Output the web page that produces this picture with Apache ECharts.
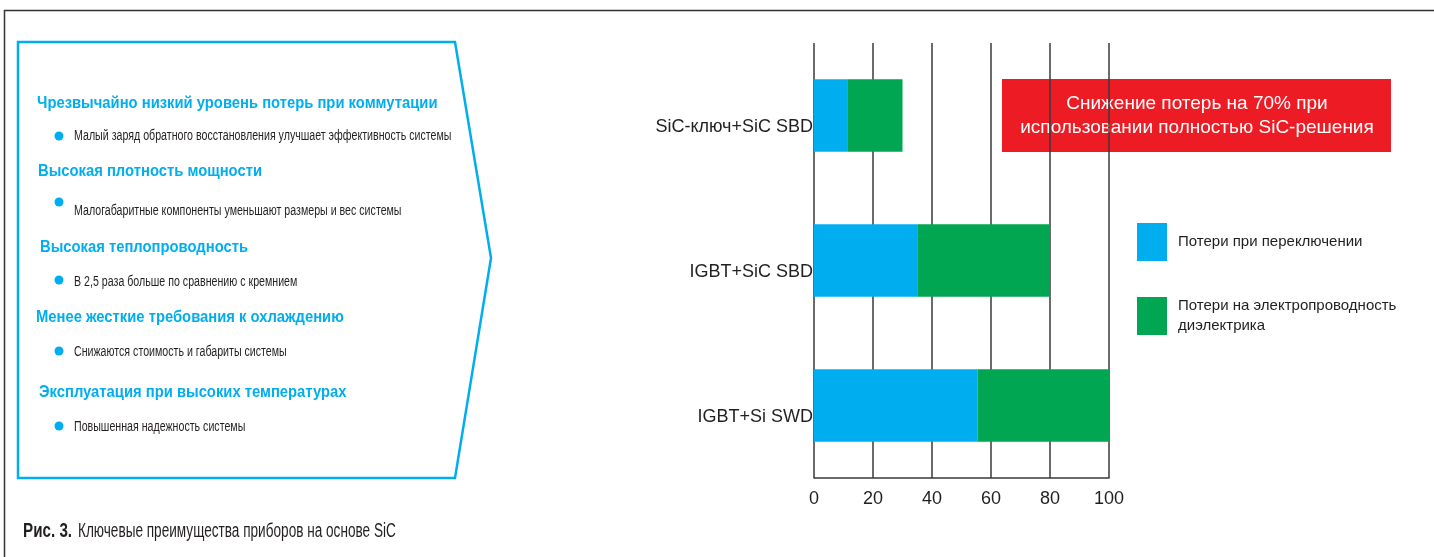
<!DOCTYPE html>
<html>
<head>
<meta charset="utf-8">
<script src="https://cdn.jsdelivr.net/npm/echarts@6/dist/echarts.min.js"></script>
<style>
  html, body { margin: 0; padding: 0; background: #fff; }
  #main { width: 1434px; height: 557px; }
</style>
</head>
<body>
<div id="main"></div>
<script>
// chart data
var categories = ['SiC-ключ+SiC SBD', 'IGBT+SiC SBD', 'IGBT+Si SWD'];
var switchLoss = [11.5, 35, 55.5];
var condLoss = [18.5, 45, 44.5];
var seriesNames = ['Потери при переключении', 'Потери на электропроводность\nдиэлектрика'];
var xTicks = [0, 20, 40, 60, 80, 100];

// left panel texts
var headings = [
    'Чрезвычайно низкий уровень потерь при коммутации',
    'Высокая плотность мощности',
    'Высокая теплопроводность',
    'Менее жесткие требования к охлаждению',
    'Эксплуатация при высоких температурах'
];
var bullets = [
    'Малый заряд обратного восстановления улучшает эффективность системы',
    'Малогабаритные компоненты уменьшают размеры и вес системы',
    'В 2,5 раза больше по сравнению с кремнием',
    'Снижаются стоимость и габариты системы',
    'Повышенная надежность системы'
];
var noteLines = ['Снижение потерь на 70% при', 'использовании полностью SiC-решения'];
var captionBold = 'Рис. 3.';
var captionText = 'Ключевые преимущества приборов на основе SiC';

var BLUE = '#00aeef';
var GREEN = '#00a651';
var FONT = '"Liberation Sans", Arial, sans-serif';

var headY = [103, 171, 247, 317, 392];
var headX = [37, 38, 40, 36, 39];
var bulletY = [136, 211, 282, 352, 427];
var dotY = [136, 202, 280, 351, 426];

var chart = echarts.init(document.getElementById('main'));

var gfx = [];
// outer frame
gfx.push({
    type: 'polyline',
    shape: { points: [[4.5, 557], [4.5, 10.5], [1434, 10.5]] },
    style: { stroke: '#333', lineWidth: 1.5, fill: null }
});
// arrow panel
gfx.push({
    type: 'polygon',
    shape: { points: [[18, 42], [455, 42], [491, 258], [455, 478], [18, 478]] },
    style: { stroke: BLUE, lineWidth: 2.5, fill: null }
});
headings.forEach(function (h, i) {
    gfx.push({
        type: 'text', x: headX[i], y: headY[i], scaleX: 0.87,
        style: { text: h, fill: BLUE, font: 'bold 17px ' + FONT, align: 'left', verticalAlign: 'middle' }
    });
    gfx.push({
        type: 'circle', shape: { cx: 59, cy: dotY[i], r: 4.5 },
        style: { fill: BLUE }
    });
    gfx.push({
        type: 'text', x: 74, y: bulletY[i], scaleX: 0.76,
        style: { text: bullets[i], fill: '#231f20', font: '14px ' + FONT, align: 'left', verticalAlign: 'middle' }
    });
});
// caption
gfx.push({
    type: 'text', x: 23, y: 531, scaleX: 0.76,
    style: { text: captionBold, fill: '#231f20', font: 'bold 20px ' + FONT, align: 'left', verticalAlign: 'middle' }
});
gfx.push({
    type: 'text', x: 78, y: 531, scaleX: 0.68,
    style: { text: captionText, fill: '#231f20', font: '20px ' + FONT, align: 'left', verticalAlign: 'middle' }
});
// red note
gfx.push({
    type: 'rect', shape: { x: 1002, y: 79, width: 389, height: 73 },
    style: { fill: '#ed1c24' }
});
gfx.push({
    type: 'text', x: 1197, y: 116,
    style: {
        text: noteLines.join('\n'), fill: '#fff', font: '19px ' + FONT,
        align: 'center', verticalAlign: 'middle', lineHeight: 24
    }
});

option = {
    backgroundColor: '#ffffff',
    animation: false,
    legend: {
        orient: 'vertical',
        left: 1132,
        top: 218,
        itemWidth: 30,
        itemHeight: 38,
        itemGap: 35,
        icon: 'rect',
        selectedMode: false,
        data: seriesNames,
        textStyle: { fontSize: 15, fontFamily: FONT, color: '#231f20', lineHeight: 20, padding: [0, 0, 0, 6] }
    },
    grid: { left: 814, right: 325, top: 43, bottom: 79 },
    xAxis: {
        type: 'value',
        min: 0,
        max: 100,
        interval: 20,
        axisLine: { show: true, lineStyle: { color: '#3a3a3a', width: 1.5 } },
        axisTick: { show: false },
        splitLine: { show: true, lineStyle: { color: '#3a3a3a', width: 1.5 } },
        axisLabel: {
            fontSize: 18, fontFamily: FONT, color: '#231f20', margin: 12,
            formatter: function (v) { return xTicks.indexOf(v) >= 0 ? String(v) : ''; }
        }
    },
    yAxis: {
        type: 'category',
        inverse: true,
        data: categories,
        axisLine: { show: false },
        axisTick: { show: false },
        splitLine: { show: false },
        axisLabel: {
            fontSize: 18, fontFamily: FONT, color: '#231f20', margin: 1,
            formatter: function (v) { return '{a|' + v + '}'; },
            rich: { a: { fontSize: 18, fontFamily: FONT, color: '#231f20', padding: [24, 0, 0, 0] } }
        }
    },
    series: [{
        name: seriesNames[0],
        type: 'bar',
        stack: 'loss',
        barWidth: '50%',
        itemStyle: { color: BLUE },
        data: switchLoss
    }, {
        name: seriesNames[1],
        type: 'bar',
        stack: 'loss',
        barWidth: '50%',
        itemStyle: { color: GREEN },
        data: condLoss
    }],
    graphic: gfx
};
chart.setOption(option);
</script>
</body>
</html>
